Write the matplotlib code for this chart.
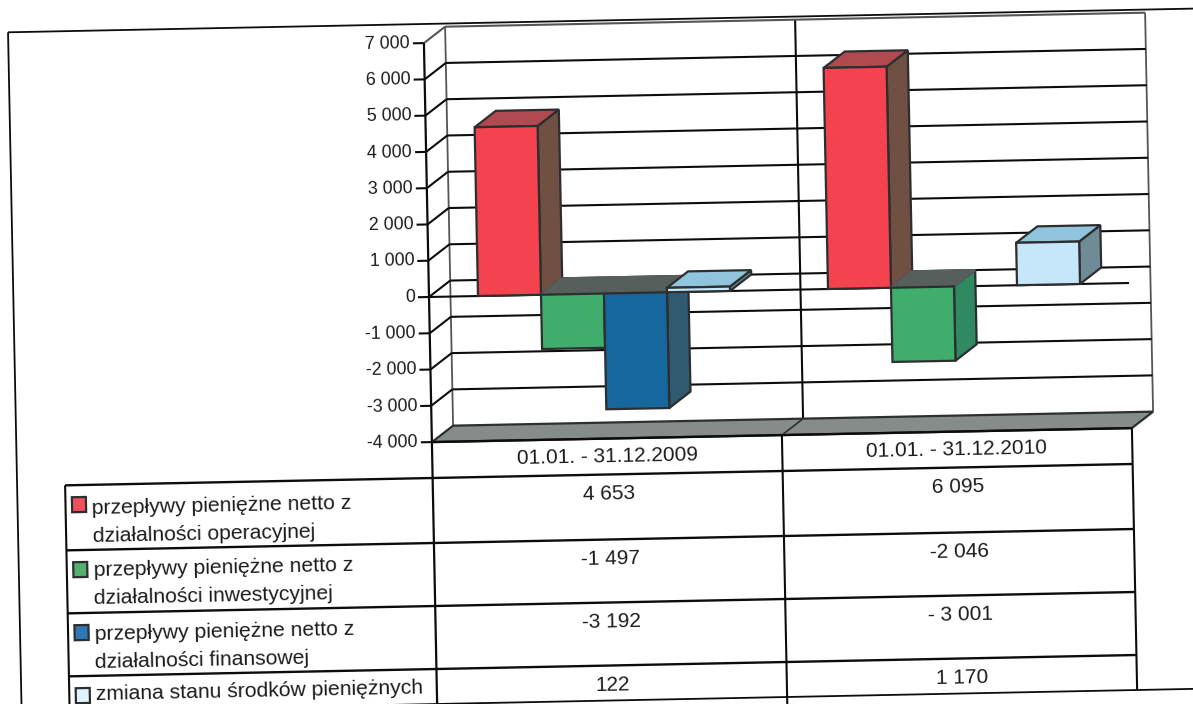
import matplotlib
matplotlib.use("Agg")
import matplotlib.pyplot as plt
from matplotlib.patches import Polygon
from matplotlib.transforms import Affine2D

plt.rcParams['font.family'] = ['Liberation Sans', 'DejaVu Sans']

periods = ["01.01. - 31.12.2009", "01.01. - 31.12.2010"]
series_labels = [
    ["przepływy pieniężne netto z", "działalności operacyjnej"],
    ["przepływy pieniężne netto z", "działalności inwestycyjnej"],
    ["przepływy pieniężne netto z", "działalności finansowej"],
    ["zmiana stanu środków pieniężnych"],
]
values_2009 = [4653, -1497, -3192, 122]
values_2010 = [6095, -2046, -3001, 1170]
# the 2010 financing bar is in the table only, it has no column on the chart
drawn_2009 = [True, True, True, True]
drawn_2010 = [True, True, False, True]
labels_2009 = ["4 653", "-1 497", "-3 192", "122"]
labels_2010 = ["6 095", "-2 046", "- 3 001", "1 170"]
axis_values = [7000, 6000, 5000, 4000, 3000, 2000, 1000, 0, -1000, -2000, -3000, -4000]
axis_labels = ["7 000", "6 000", "5 000", "4 000", "3 000", "2 000", "1 000", "0",
               "-1 000", "-2 000", "-3 000", "-4 000"]

front_colors = ["#f4424f", "#3fae6c", "#17679f", "#c6e7f9"]
top_colors = ["#b04a50", "#565f5b", "#565f5b", "#90c5dd"]
side_colors = ["#6f5043", "#2f8a62", "#2f5a70", "#6f8b95"]
swatch_colors = ["#f0505c", "#55b070", "#2f78b8", "#dff4fa"]

INK = "#0c0c0c"
EDGE = "#2c2e30"
WALL = "#555555"
FLOOR = "#868c89"

PX_PER_VALUE = 0.03627   # chart height per unit of value
CAT_W = 350.0            # width of one period
BAR_W = 63.0
GAP = 49.0
DX, DY = 21.5, -16.0     # depth offset of the back wall

fig = plt.figure(figsize=(11.93, 7.04), dpi=100)
ax = fig.add_axes([0, 0, 1, 1])
ax.set_xlim(0, 1193)
ax.set_ylim(704, 0)
ax.axis("off")

# the sheet sits slightly tilted, so everything is drawn in a skewed frame
tilt = Affine2D.from_values(1, -0.02, 0.02, 1, 429, 297) + ax.transData
TEXT_ROT = 1.15


def vy(value):
    return -value * PX_PER_VALUE


def line(xs, ys, color=INK, lw=1.5, z=2):
    ax.plot(xs, ys, color=color, lw=lw, transform=tilt, zorder=z,
            solid_capstyle="butt", clip_on=False)


def face(pts, color, z, edge=EDGE):
    ax.add_patch(Polygon(pts, closed=True, facecolor=color, edgecolor=edge, lw=1.6,
                         joinstyle="miter", transform=tilt, zorder=z))


def label(u, v, s, size=15, ha="center", va="center"):
    ax.text(u, v, s, fontsize=size, ha=ha, va=va, color="#1c1c1c", transform=tilt,
            rotation=TEXT_ROT, rotation_mode="anchor", zorder=6)


plot_w = CAT_W * len(periods)
y_top, y_bot = vy(axis_values[0]), vy(axis_values[-1])

# outer frame of the sheet
line([-415.5, 775], [-273, -273], lw=1.3)
line([-415.5, -415.5], [-273, 420], lw=1.3)

# back wall with its grid
line([DX, DX], [y_top + DY, y_bot + DY], color=WALL, lw=1.3)
line([plot_w + DX, plot_w + DX], [y_top + DY, y_bot + DY], color=WALL, lw=1.3)
line([CAT_W + DX, CAT_W + DX], [y_top + DY, y_bot + DY], lw=1.5)
for val in axis_values:
    v = vy(val)
    c = WALL if val in (axis_values[0], axis_values[-1]) else INK
    if val != axis_values[-1]:
        line([DX, plot_w + DX], [v + DY, v + DY], color=c)
        line([0, DX], [v, v + DY], color=c)
    line([-11, 0], [v, v])
    label(-14, v, axis_labels[axis_values.index(val)], size=12.8, ha="right")

# floor
face([(0, y_bot), (plot_w, y_bot), (plot_w + DX, y_bot + DY), (DX, y_bot + DY)], FLOOR, 2.5)
line([CAT_W, CAT_W + DX], [y_bot, y_bot + DY], color=EDGE, lw=1.2, z=3)

# zero line on the front plane
line([0, plot_w], [0, 0], z=3)

# columns, painted from left to right so nearer faces cover older ones
z = 4.0
for c, (vals, drawn) in enumerate(zip([values_2009, values_2010], [drawn_2009, drawn_2010])):
    for i, val in enumerate(vals):
        if not drawn[i]:
            continue
        x0 = c * CAT_W + GAP + i * BAR_W
        x1 = x0 + BAR_W
        y0 = vy(max(val, 0))
        y1 = vy(min(val, 0))
        # the cap of a falling column is the dark zero plane, without an outline
        cap_edge = top_colors[i] if val < 0 else EDGE
        face([(x1, y0), (x1 + DX, y0 + DY), (x1 + DX, y1 + DY), (x1, y1)], side_colors[i], z)
        face([(x0, y0), (x0 + DX, y0 + DY), (x1 + DX, y0 + DY), (x1, y0)], top_colors[i], z + 0.01, cap_edge)
        face([(x0, y0), (x1, y0), (x1, y1), (x0, y1)], front_colors[i], z + 0.02)
        z += 0.1

# data table under the chart
row_lines = [181, 246, 309, 372, 407]
legend_lead = [29, 26, 27, 24]
table_left = -367.5
line([0, 0], [y_top, row_lines[-1] + 20], lw=1.6, z=5)
line([CAT_W, CAT_W], [y_bot, row_lines[-1] + 20], z=5)
line([plot_w, plot_w], [y_bot, row_lines[-1]], z=5)
line([table_left, table_left], [row_lines[0], row_lines[-1] + 20], z=5)
line([0, plot_w], [y_bot, y_bot], lw=1.7, z=5)
for v in row_lines[:-1]:
    line([table_left, plot_w], [v, v], lw=1.7, z=5)
line([table_left, 775], [row_lines[-1], row_lines[-1]], lw=1.3, z=5)

for c, period in enumerate(periods):
    label(c * CAT_W + 175 - c, 163, period)

for i, row in enumerate(series_labels):
    top = row_lines[i]
    center = top + 19.5
    label(176, center, labels_2009[i])
    label(CAT_W + 175, center, labels_2010[i])
    for j, text_line in enumerate(row):
        label(-341, top + legend_lead[i] + j * 28, text_line, size=15.2, ha="left", va="baseline")
    face([(-361, top + 12), (-347, top + 12), (-347, top + 27), (-361, top + 27)],
         swatch_colors[i], 5.5)

fig.savefig("out.png", dpi=100, facecolor="white")
